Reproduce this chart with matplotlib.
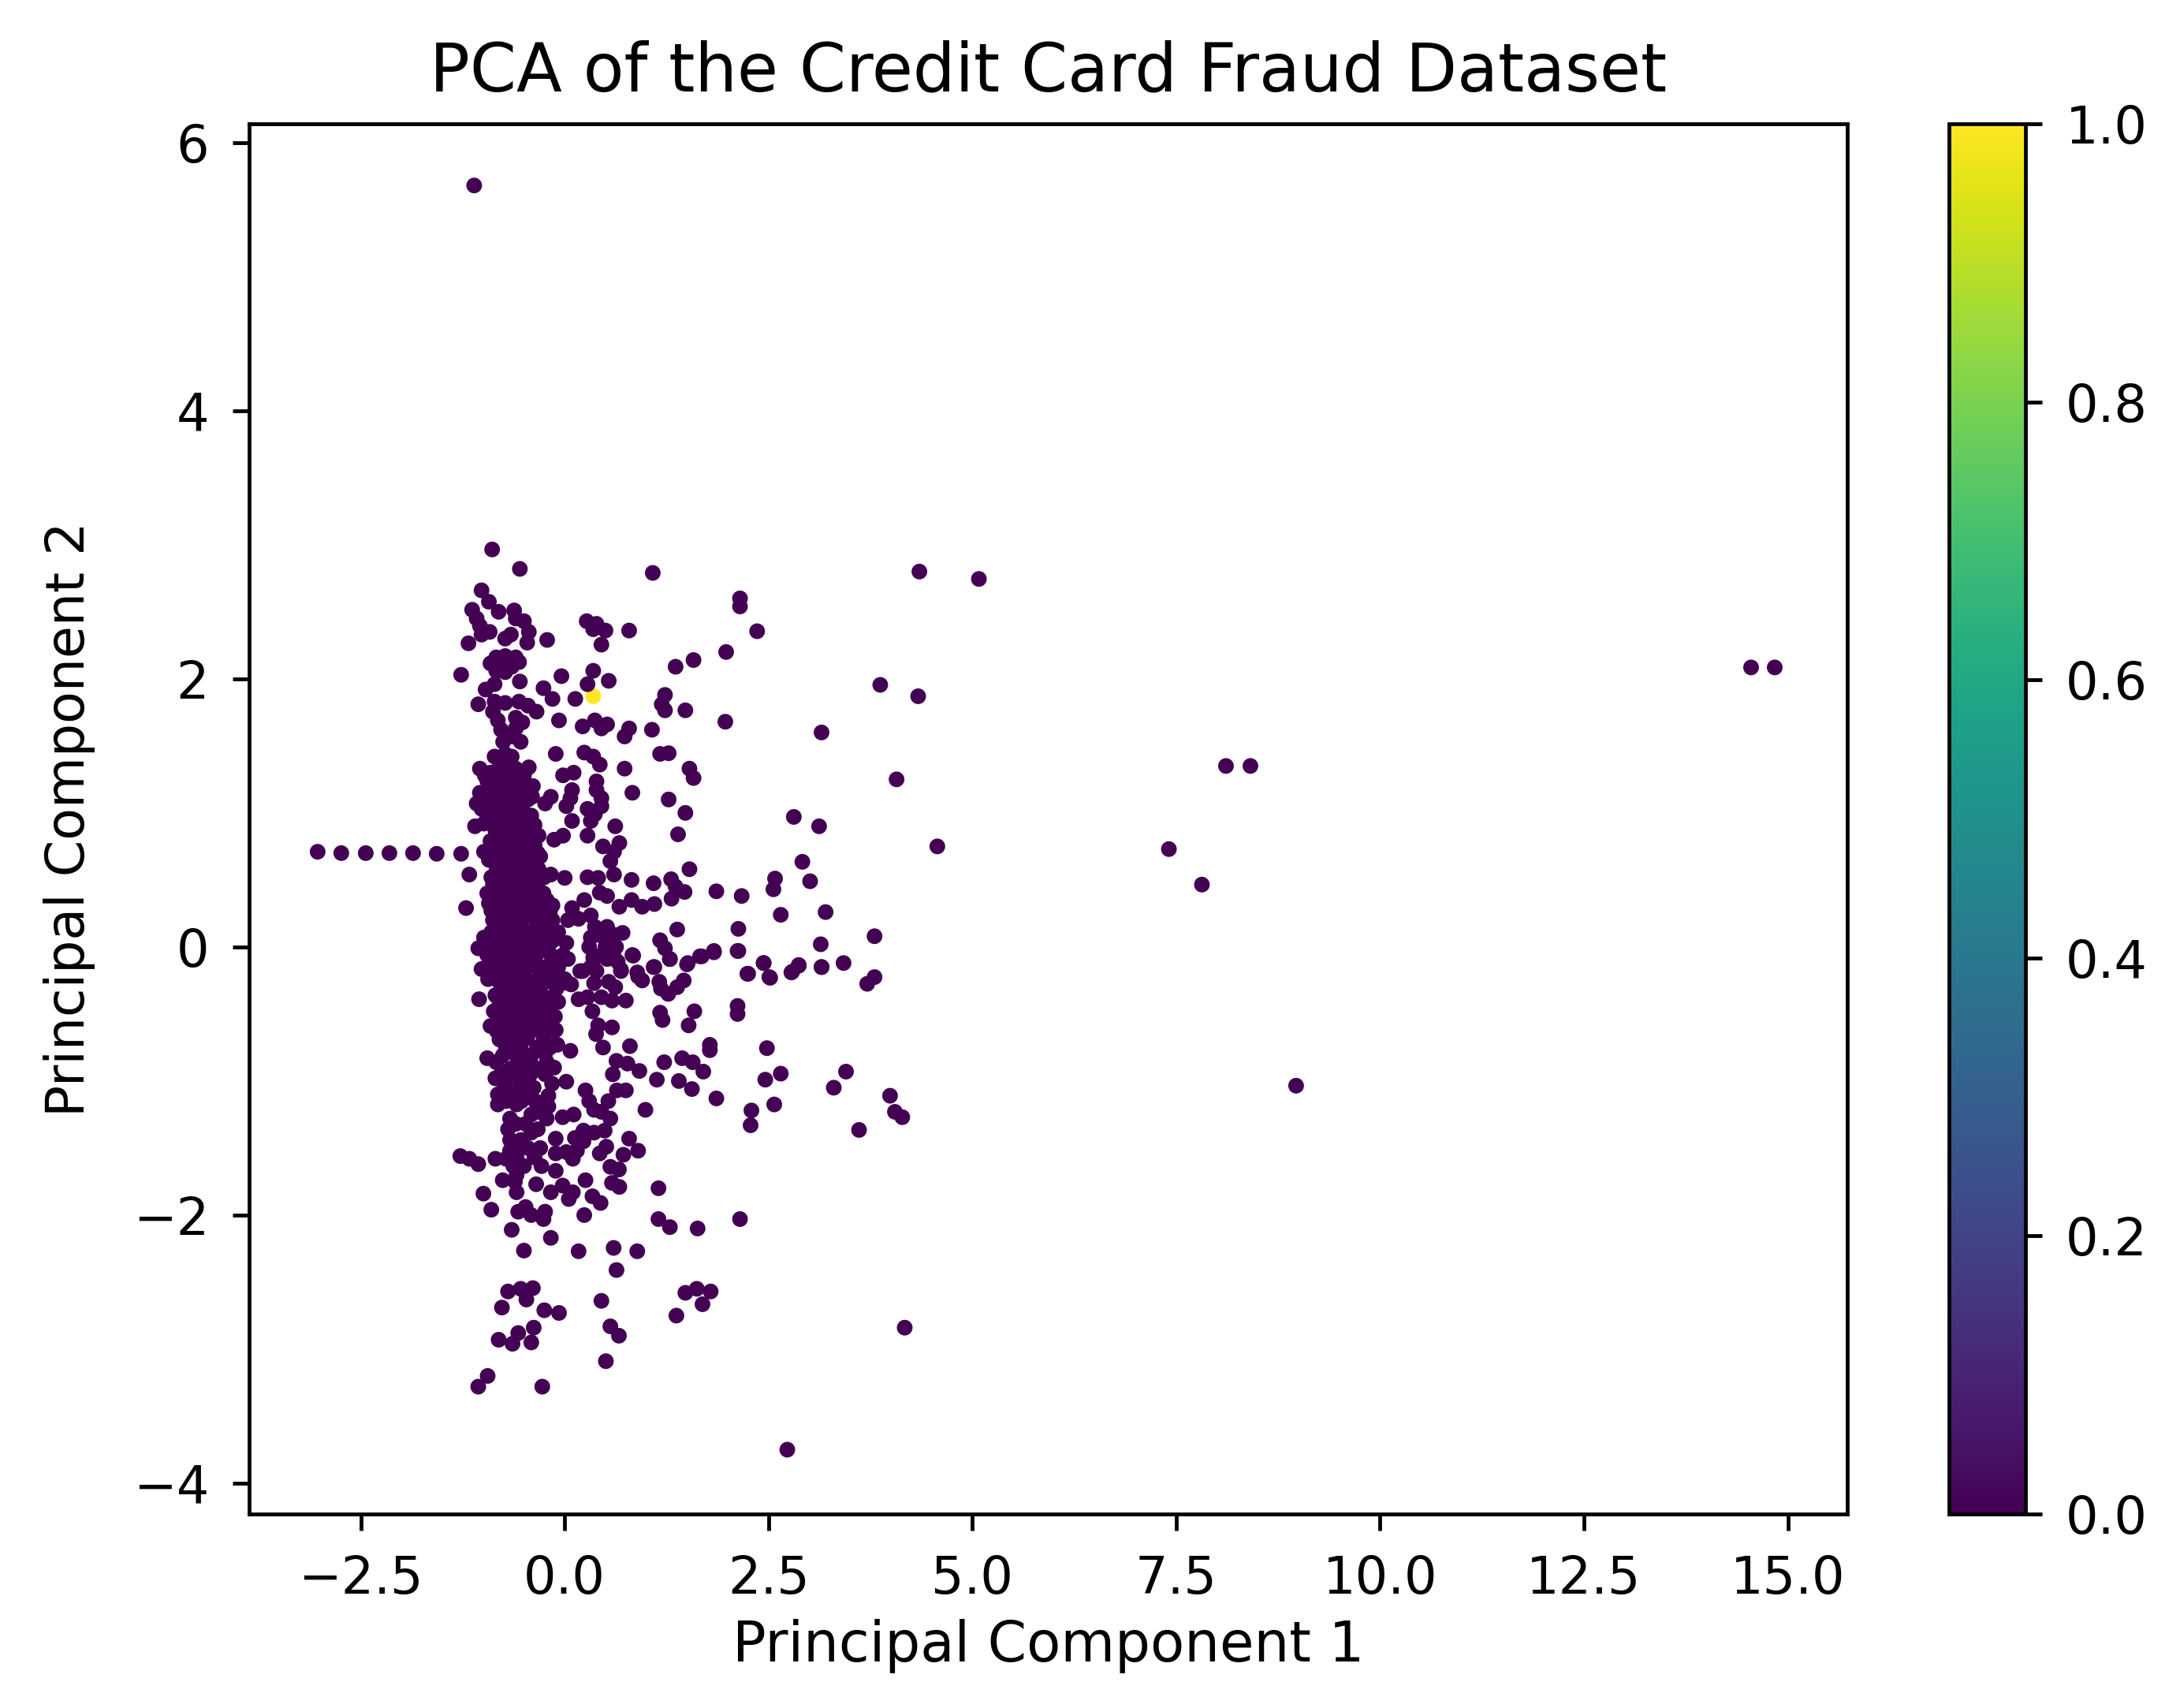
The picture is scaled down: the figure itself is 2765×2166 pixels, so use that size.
import matplotlib
matplotlib.use("Agg")
import matplotlib.pyplot as plt
import numpy as np

# PCA scores, grouped by region
fraud_pc1 = [0.10, 0.35]
fraud_pc2 = [0.235, 1.87]

tail_pc1 = [-3.03, -2.74, -2.44, -2.15, -1.86, -1.57, -1.27, -1.17, -1.21]
tail_pc2 = [0.71, 0.70, 0.70, 0.70, 0.70, 0.695, 0.695, 0.54, 0.29]

top_pc1 = [-1.11, -0.89, -0.55, 1.08, 2.15, 2.15, -1.02, -0.93, -0.81, -1.135, -1.08, -1.04, -1.02, -0.92, -1.18,
           -0.62, -0.60, -0.50, -0.44, -0.46, -0.73, -0.66, -0.215, 0.27, 0.39, 0.35, 0.50, 0.45, 0.79, 2.36,
           1.98, 1.58, 1.36, -0.84, -0.73, -0.60, -0.91, -0.78, -0.56, -0.84, -0.73, -0.65, -1.27, -0.55, -0.04,
           0.35, 0.54, 0.28, -0.26, -0.15, 0.13, -0.97, -0.86, 1.23, 1.19, 1.23, 1.48, -1.06, -0.86, -0.88,
           -0.73, -0.56, -0.45, -0.345, -0.82, -0.60, -0.52, -0.78, -0.60, -0.755, -0.54, -0.65, -0.07, 0.22, 0.37,
           0.45, 0.52, 0.79, 0.735, 1.07, 1.97, 3.15, -0.11, 0.24, 0.35, 0.43, 0.735, 1.17, 1.275, 1.53,
           1.58, -0.02, 0.11, 0.39, 0.39, 0.45, 0.45, 0.28, 0.37, 0.32, 0.83, 1.275, 1.48, 2.81, 3.12,
           0.09, 0.07, 0.02, 0.09, -0.17, -0.24, 0.62, 1.39, 0.28, -0.02, -0.13, 0.67, 0.47, 0.605, 0.56]
top_pc2 = [5.68, 2.965, 2.82, 2.79, 2.60, 2.54, 2.66, 2.575, 2.50, 2.515, 2.45, 2.395, 2.33, 2.35, 2.265,
           2.51, 2.45, 2.43, 2.35, 2.27, 2.30, 2.33, 2.29, 2.43, 2.41, 2.37, 2.36, 2.255, 2.36, 2.355,
           2.20, 2.14, 2.09, 2.16, 2.17, 2.16, 2.115, 2.10, 2.125, 2.06, 2.05, 2.09, 2.03, 1.98, 2.02,
           2.06, 1.985, 1.96, 1.93, 1.85, 1.85, 1.92, 1.96, 1.88, 1.81, 1.765, 1.765, 1.81, 1.83, 1.755,
           1.82, 1.83, 1.80, 1.755, 1.69, 1.71, 1.675, 1.62, 1.63, 1.53, 1.53, 1.57, 1.69, 1.645, 1.69,
           1.63, 1.66, 1.63, 1.57, 1.62, 1.68, 1.60, 1.44, 1.45, 1.42, 1.36, 1.33, 1.44, 1.445, 1.33,
           1.26, 1.28, 1.30, 1.235, 1.17, 1.11, 1.05, 1.03, 0.99, 0.94, 1.15, 1.10, 1.00, 0.97, 0.90,
           1.17, 1.11, 1.05, 0.94, 1.12, 1.07, 0.90, 0.84, 0.83, 0.83, 0.80, 0.775, 0.75, 0.71, 0.64]

core_pc1 = [-0.86, -0.73, -0.65, -1.04, -0.91, -0.73, -0.60, -0.44, -0.95, -0.78, -0.56, -1.04, -0.91, -0.78, -0.65,
            -0.39, -1.08, -0.95, -0.80, -0.67, -0.45, -0.78, -0.60, -0.41, -0.95, -1.10, -0.99, -0.73, -0.52, -0.37,
            -0.78, -0.63, -0.45, -0.32, -0.91, -0.99, -0.86, -0.69, -0.54, -0.37, -0.93, -0.78, -0.60, -0.43, -0.30,
            -0.84, -0.69, -0.52, -0.32, -0.17, 0.0, 0.28, 0.41, -0.88, -0.73, -0.56, -0.37, -0.95, -0.78, -0.60,
            -0.43, -0.26, -0.93, -0.755, -0.52, -0.32, -0.15, -0.84, -0.67, -0.475, -0.26, -0.78, -0.60, -0.215, -0.99,
            -1.06, -0.86, -0.69, -0.52, -0.345, -0.15, -0.78, -0.60, -0.45, -0.26, -0.04, -0.99, -0.73, -0.56, -0.37,
            -0.17, 0.04, -0.86, -0.69, -0.50, -0.30, -0.13, 0.04, -1.02, -1.05, -0.76, -0.59, -0.41, -0.24, -0.85,
            -0.67, -0.50, -0.33, -0.155, -0.87, -0.72, -0.54, -0.37, -0.20, -0.91, -0.74, -0.565, -0.39, -0.22, -0.11,
            -0.80, -0.63, -0.46, -0.26, -0.09, 0.07, -0.95, -0.76, -0.59, -0.41, -0.24, -0.67, -0.50, -0.33, -0.13,
            -0.85, -0.72, -0.54, -0.155, 0.02, -0.82, -0.82, -0.63, -0.46, -0.20, -0.59, -0.20, -0.31, -0.41, -0.67,
            -0.22, -0.025, 0.11, -0.695, -0.33, -0.67, -0.54, -0.41, -0.11, -0.67, -0.85, -0.72, -0.59, -0.37, -1.28,
            -1.17, -1.06, -0.63, -0.50, -0.285, -0.11, -0.59, -0.76, -0.61, -0.35, -0.59, -0.997, -0.17, -0.025, 0.10,
            0.05, -0.90, -0.57, -0.48, -0.41, -0.26, -0.24, 0.24, -0.65, -0.17, -0.50, 0.17, 0.60, 0.89, 0.635]
core_pc2 = [1.42, 1.44, 1.42, 1.33, 1.30, 1.33, 1.33, 1.34, 1.24, 1.25, 1.26, 1.15, 1.17, 1.16, 1.19,
            1.20, 1.07, 1.08, 1.07, 1.10, 1.10, 0.99, 1.01, 0.98, 0.97, 0.90, 0.92, 0.92, 0.92, 0.91,
            0.83, 0.84, 0.84, 0.83, 0.79, 0.71, 0.72, 0.76, 0.74, 0.76, 0.65, 0.65, 0.675, 0.675, 0.675,
            0.56, 0.57, 0.58, 0.58, 0.54, 0.515, 0.52, 0.515, 0.47, 0.48, 0.48, 0.495, 0.40, 0.39, 0.40,
            0.39, 0.40, 0.325, 0.31, 0.31, 0.31, 0.31, 0.235, 0.235, 0.235, 0.25, 0.16, 0.16, 0.145, 0.07,
            -0.01, 0.06, 0.07, 0.07, 0.09, 0.045, -0.02, -0.02, -0.01, -0.01, -0.07, -0.16, -0.11, -0.11, -0.11,
            -0.135, -0.09, -0.225, -0.20, -0.20, -0.20, -0.225, -0.27, -0.165, -0.39, -0.26, -0.26, -0.26, -0.26, -0.36,
            -0.36, -0.35, -0.36, -0.375, -0.48, -0.47, -0.47, -0.47, -0.47, -0.59, -0.585, -0.585, -0.56, -0.585, -0.62,
            -0.69, -0.69, -0.68, -0.70, -0.73, -0.775, -0.83, -0.81, -0.81, -0.81, -0.795, -0.91, -0.91, -0.91, -0.90,
            -0.98, -1.00, -1.00, -1.02, -1.005, -1.10, -1.175, -1.10, -1.10, -1.11, -1.175, -1.19, -1.23, -1.25, -1.28,
            -1.28, -1.27, -1.25, -1.36, -1.36, -1.44, -1.44, -1.385, -1.43, -1.52, -1.58, -1.58, -1.57, -1.57, -1.56,
            -1.58, -1.62, -1.635, -1.635, -1.635, -1.67, -1.70, -1.74, -1.75, -1.77, -1.83, -1.84, -1.83, -1.78, -1.83,
            -1.88, -1.96, -1.975, -1.94, -2.0, -2.03, -1.975, -2.0, -2.11, -2.17, -2.265, -2.27, -2.245, -2.27, -2.41]

# the solid part of the cloud, where single dots cannot be told apart
dense_levels = [1.38, 1.28, 1.21, 1.12, 1.03, 0.95, 0.87, 0.78, 0.70, 0.62, 0.52, 0.44, 0.35, 0.27, 0.20, 0.11, 0.03,
                -0.06, -0.15, -0.24, -0.31, -0.41, -0.52, -0.63, -0.75, -0.86, -0.95, -1.05, -1.15, -1.32, -1.50]
dense_pc1 = [[-0.80, -0.68],
             [-0.98, -0.82, -0.66, -0.50],
             [-0.86, -0.72, -0.48],
             [-1.00, -0.86, -0.72, -0.55, -0.40],
             [-1.02, -0.88, -0.72, -0.52],
             [-0.87, -0.68, -0.50],
             [-0.85, -0.70, -0.57, -0.42],
             [-0.80, -0.67, -0.50, -0.40],
             [-0.75, -0.62, -0.48, -0.33],
             [-0.85, -0.68, -0.52, -0.37],
             [-0.90, -0.78, -0.62, -0.45, -0.25],
             [-0.85, -0.67, -0.50, -0.33],
             [-0.87, -0.68, -0.60, -0.42, -0.22],
             [-0.90, -0.76, -0.58, -0.40, -0.18],
             [-0.88, -0.72, -0.53, -0.36, -0.15],
             [-0.90, -0.75, -0.60, -0.44, -0.28, -0.08],
             [-0.92, -0.70, -0.52, -0.36, -0.18, 0.02],
             [-0.95, -0.84, -0.68, -0.52, -0.35, -0.17, -0.02],
             [-0.90, -0.82, -0.64, -0.46, -0.28, -0.08],
             [-0.94, -0.84, -0.68, -0.50, -0.33, -0.14, 0.0],
             [-0.78, -0.60, -0.46, -0.30, -0.10],
             [-0.80, -0.58, -0.42, -0.24, -0.08],
             [-0.80, -0.63, -0.46, -0.28, -0.12],
             [-0.83, -0.66, -0.48, -0.30, -0.16],
             [-0.72, -0.54, -0.34, -0.18],
             [-0.84, -0.58, -0.42, -0.22],
             [-0.78, -0.60, -0.42, -0.24],
             [-0.74, -0.55, -0.38],
             [-0.72, -0.53, -0.36],
             [-0.60, -0.48],
             [-0.55, -0.45, -0.30]]

mid_pc1 = [0.24, 0.43, 0.52, 0.09, 0.04, 0.17, 0.32, 0.37, 0.52, 0.71, 0.32, 0.48, 0.605, 0.30, 0.50,
           0.63, 0.35, 0.52, 0.65, 0.22, 0.39, 0.69, 0.89, 0.95, 0.08, 0.19, 0.32, 0.41, 0.60, 0.69,
           0.84, 0.90, 0.17, 0.28, 0.36, 0.54, 0.62, 0.45, 0.58, 0.75, 0.34, 0.41, 0.385, 0.58, 0.47,
           0.80, 0.635, 0.77, 0.916, 0.59, 0.255, 0.30, 0.36, 0.45, 0.535, 0.64, 0.75, 0.56, 0.99, 0.49,
           0.36, 0.23, 0.125, 0.23, -0.11, 0.02, 0.15, 0.10, 0.51, 0.43, 0.79, 0.90, 0.72, 0.56, 0.665,
           0.58, 0.67, 0.255, 0.34, 0.44, 1.15, 1.15, 1.29, 1.63, 2.15]
mid_pc2 = [0.35, 0.405, 0.38, 0.29, 0.20, 0.21, 0.235, 0.15, 0.15, 0.105, 0.07, 0.07, 0.09, 0.0, 0.0,
           0.0, -0.08, -0.09, -0.11, -0.18, -0.18, -0.17, -0.19, -0.25, -0.28, -0.18, -0.15, -0.07, -0.07, -0.18,
           -0.065, -0.22, -0.39, -0.375, -0.27, -0.26, -0.30, -0.375, -0.40, -0.40, -0.48, -0.585, -0.65, -0.60, -0.75,
           -0.74, -0.85, -0.87, -0.925, -0.95, -1.07, -1.15, -1.215, -1.23, -1.15, -1.07, -1.07, -1.28, -1.215, -1.37,
           -1.385, -1.37, -1.425, -1.45, -1.54, -1.53, -1.52, -1.58, -1.49, -1.54, -1.43, -1.52, -1.55, -1.64, -1.66,
           -1.76, -1.79, -1.74, -1.86, -1.91, -1.80, -2.03, -2.09, -2.10, -2.03]

right_pc1 = [1.17, 1.23, 1.29, 0.83, 1.09, 1.53, 1.38, 2.13, 3.14, 2.13, 1.83, 1.66, 1.50, 2.44, 2.25,
             2.51, 2.79, 2.87, 3.15, 2.58, 2.56, 3.01, 2.915, 0.605, 0.82, 1.09, 1.305, 1.36, 1.47, 1.31,
             1.10, 0.95, 0.82, 0.67, 1.86, 2.17, 2.65, 3.20, 1.10, 1.29, 1.51, 1.68, 1.83, 2.12, 2.24,
             2.44, 2.52, 2.78, 2.87, 3.15, 3.42, 3.80, 3.71, 1.16, 1.18, 1.27, 1.38, 1.46, 1.17, 1.20,
             1.59, 1.52, 2.12, 2.12, 1.78, 1.78, 2.48, 1.22, 1.44, 1.57, 1.70, 1.13, 1.40, 1.56, 1.86,
             2.46, 2.65, 3.45, 3.30, 2.57, 2.29, 2.28, 3.61, 3.99, 4.05, 4.14, 3.80, 3.87, 4.335, 4.35,
             5.08, 4.07, 4.57, 7.41, 7.815, 8.11, 8.41, 14.55, 14.84, 8.97]
right_pc2 = [0.05, -0.01, -0.09, -0.06, -0.15, 0.58, 0.13, 0.135, 0.02, -0.03, -0.04, -0.07, -0.13, -0.12, -0.20,
             -0.225, -0.185, -0.135, -0.15, 0.51, 0.43, 0.49, 0.635, 0.54, 0.50, 0.475, 0.505, 0.45, 0.41, 0.36,
             0.32, 0.30, 0.35, 0.30, 0.415, 0.38, 0.24, 0.26, -0.15, -0.09, -0.12, -0.07, -0.03, -0.03, -0.20,
             -0.12, -0.23, -0.19, -0.14, -0.15, -0.12, -0.225, -0.275, -0.26, -0.31, -0.35, -0.30, -0.25, -0.49, -0.545,
             -0.48, -0.585, -0.44, -0.50, -0.73, -0.77, -0.755, -0.86, -0.83, -0.86, -0.93, -0.99, -1.0, -1.06, -1.13,
             -0.99, -0.945, -0.93, -1.05, -1.175, -1.22, -1.33, -1.365, -1.11, -1.23, -1.27, 0.08, 1.955, 1.87, 2.80,
             2.745, 1.25, 0.75, 0.73, 0.465, 1.35, 1.35, 2.085, 2.085, -1.035]

bottom_pc1 = [-0.695, -0.54, -0.39, -0.47, -0.77, -0.25, -0.07, 0.45, 0.56, 0.665, -0.38, -0.57, -0.81, -0.64, -0.41,
              0.505, -0.945, -1.06, -0.275, 2.73, 4.17, 1.48, 1.62, 1.79, 1.69, 1.37]
bottom_pc2 = [-2.57, -2.55, -2.545, -2.63, -2.69, -2.71, -2.73, -2.64, -2.83, -2.90, -2.84, -2.88, -2.93, -2.96, -2.95,
              -3.09, -3.20, -3.28, -3.28, -3.75, -2.84, -2.58, -2.55, -2.57, -2.665, -2.75]

fill_pc1 = []
fill_pc2 = []
for level, row in zip(dense_levels, dense_pc1):
    fill_pc1 += row
    fill_pc2 += [level] * len(row)

normal_pc1 = tail_pc1 + top_pc1 + core_pc1 + fill_pc1 + mid_pc1 + right_pc1 + bottom_pc1
normal_pc2 = tail_pc2 + top_pc2 + core_pc2 + fill_pc2 + mid_pc2 + right_pc2 + bottom_pc2

pc1 = np.array(fraud_pc1 + normal_pc1)
pc2 = np.array(fraud_pc2 + normal_pc2)
labels = np.array([1] * len(fraud_pc1) + [0] * len(normal_pc1))

plt.rcParams["xtick.labelsize"] = 10.9
plt.rcParams["ytick.labelsize"] = 10.9
plt.rcParams["xtick.major.pad"] = 5
plt.rcParams["ytick.major.pad"] = 5

fig = plt.figure(figsize=(2765 / 432, 2166 / 432), dpi=432)
ax = fig.add_axes([316 / 2765, 1 - 1920 / 2166, (2343 - 316) / 2765, (1920 - 157) / 2166])
cax = fig.add_axes([2472 / 2765, 1 - 1920 / 2166, (2569 - 2472) / 2765, (1920 - 157) / 2166])

sc = ax.scatter(pc1, pc2, c=labels, cmap="viridis", s=11, linewidths=0)
ax.set_xlim(-3.87, 15.73)
ax.set_ylim(-4.23, 6.14)
ax.set_yticks([-4, -2, 0, 2, 4, 6])
ax.set_xlabel("Principal Component 1", fontsize=11.8, labelpad=3)
ax.set_ylabel("Principal Component 2", fontsize=11.1, labelpad=8)
ax.set_title("PCA of the Credit Card Fraud Dataset", fontsize=14.1, pad=7)
fig.colorbar(sc, cax=cax)

fig.savefig("out.png", dpi=432)
